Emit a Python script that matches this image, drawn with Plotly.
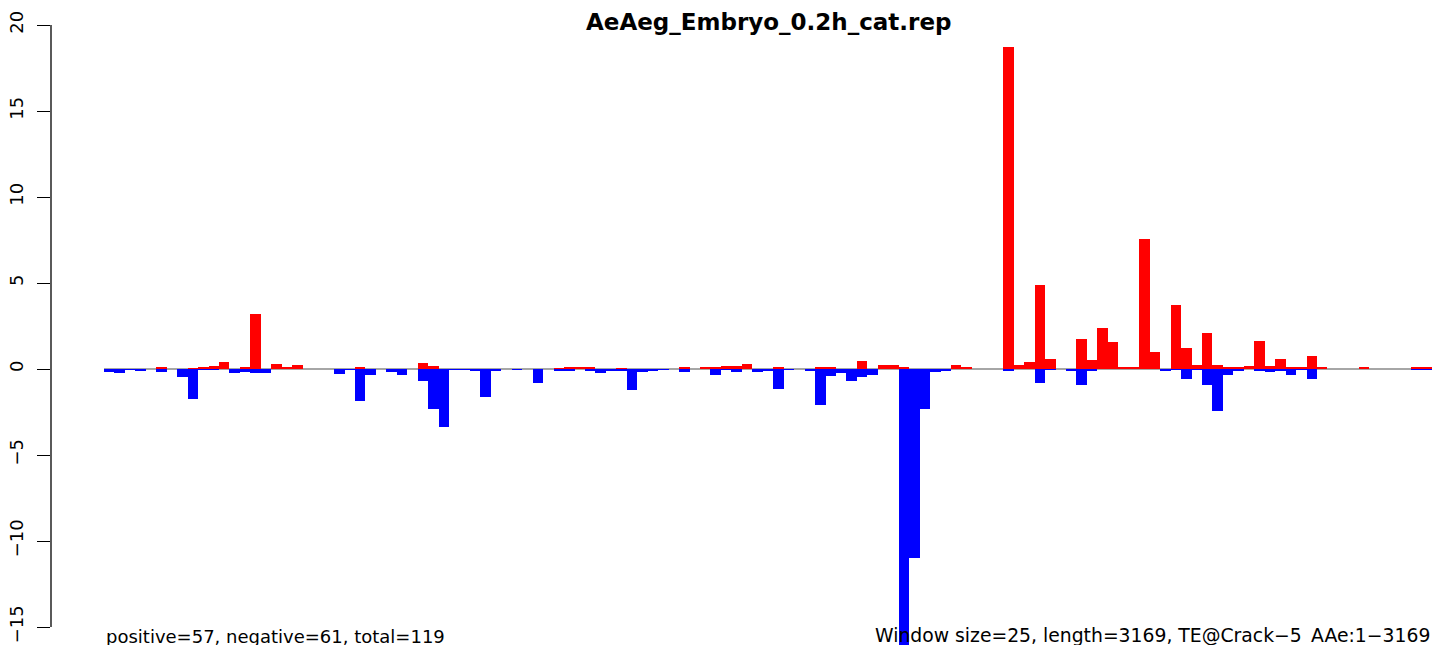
import plotly.graph_objects as go

title = "AeAeg_Embryo_0.2h_cat.rep"
left_note = "positive=57, negative=61, total=119"
right_note = "Window size=25, length=3169, TE@Crack\u22125_AAe:1\u22123169"

# one window per 25 bp -> 127 windows
positive = [0, 0, 0, 0, 0, 0.10, 0, 0, 0.05, 0.12,
            0.18, 0.41, 0, 0.06, 3.22, 0, 0.29, 0.06, 0.23, 0,
            0, 0, 0, 0, 0.08, 0, 0, 0, 0, 0,
            0.37, 0.18, 0, 0, 0, 0, 0, 0, 0, 0,
            0, 0, 0, 0.03, 0.12, 0.06, 0.12, 0, 0, 0.03,
            0, 0, 0, 0, 0, 0.12, 0, 0.12, 0.06, 0.18,
            0.18, 0.29, 0, 0, 0.06, 0, 0, 0, 0.12, 0.06,
            0, 0, 0.47, 0, 0.23, 0.23, 0.06, 0, 0, 0,
            0, 0.23, 0.12, 0, 0, 0, 18.72, 0.23, 0.41, 4.91,
            0.58, 0, 0, 1.75, 0.53, 2.40, 1.58, 0.08, 0.14, 7.54,
            0.99, 0, 3.74, 1.23, 0.23, 2.10, 0.23, 0.12, 0.12, 0.18,
            1.64, 0.18, 0.58, 0.12, 0.12, 0.76, 0.06, 0, 0, 0,
            0.12, 0, 0, 0, 0, 0.06, 0.06]

negative = [-0.15, -0.25, -0.05, -0.12, 0, -0.20, 0, -0.45, -1.75, -0.03,
            -0.05, 0, -0.22, -0.15, -0.22, -0.22, 0, 0, 0, 0,
            0, 0, -0.30, -0.04, -1.85, -0.35, 0, -0.16, -0.35, 0,
            -0.68, -2.34, -3.39, -0.04, -0.04, -0.10, -1.64, -0.06, 0, -0.04,
            0, -0.82, 0, -0.06, -0.06, 0, -0.06, -0.22, -0.10, -0.10,
            -1.23, -0.16, -0.10, -0.04, 0, -0.16, 0, 0, -0.35, -0.04,
            -0.16, 0, -0.16, -0.06, -1.17, -0.04, 0, -0.10, -2.10, -0.40,
            -0.22, -0.70, -0.45, -0.35, 0, 0, -16.2, -10.97, -2.34, -0.16,
            -0.06, 0, 0, 0, 0, 0, -0.06, 0, 0, -0.82,
            -0.04, 0, -0.06, -0.94, -0.12, 0, 0, 0, 0, 0,
            0, -0.08, -0.04, -0.58, -0.04, -0.94, -2.46, -0.35, -0.12, 0,
            -0.12, -0.18, -0.10, -0.35, -0.04, -0.58, 0, 0, 0, 0,
            0, 0, 0, 0, 0, -0.04, -0.04]

y_ticks = [-15, -10, -5, 0, 5, 10, 15, 20]
y_tick_text = [str(v).replace("-", "\u2212") for v in y_ticks]

n = len(positive)
xs = [i + 0.5 for i in range(n)]

# the page body adds an 8px offset; layout numbers below are in figure pixels
W, H = 1441, 645
ML = 43
bar_left, bar_right = 96, 1424
px_per_bar = (bar_right - bar_left) / n
x0 = -(bar_left - ML) / px_per_bar
x1 = x0 + (W - ML) / px_per_bar
zero_px = 361
px_per_unit = 17.2
y_max = zero_px / px_per_unit
y_min = -(H - zero_px) / px_per_unit

FONT = "DejaVu Sans"

fig = go.Figure()
fig.add_trace(go.Bar(x=xs, y=positive, width=1, marker=dict(color="#FF0000", line=dict(width=0)),
                     showlegend=False, hoverinfo="skip"))
fig.add_trace(go.Bar(x=xs, y=negative, width=1, marker=dict(color="#0000FF", line=dict(width=0)),
                     showlegend=False, hoverinfo="skip"))

fig.update_layout(
    template="none",
    width=W, height=H,
    margin=dict(l=ML, r=0, t=0, b=0, pad=0),
    paper_bgcolor="white", plot_bgcolor="white",
    barmode="overlay", bargap=0,
    xaxis=dict(range=[x0, x1], visible=False, showgrid=False, zeroline=False, fixedrange=True),
    yaxis=dict(range=[y_min, y_max], showgrid=False, zeroline=False, showline=False,
               tickmode="array", tickvals=y_ticks, ticktext=y_tick_text,
               ticks="outside", ticklen=13, tickwidth=1.3, tickcolor="black",
               tickangle=-90, ticklabelstandoff=7,
               tickfont=dict(family=FONT, size=18, color="black"),
               automargin=False, fixedrange=True),
    shapes=[
        dict(type="line", xref="x", yref="y", x0=0, x1=n, y0=0, y1=0,
             line=dict(color="#a6a6a6", width=2), layer="below"),
        dict(type="line", xref="paper", yref="y", x0=0, x1=0, y0=-15, y1=20,
             line=dict(color="black", width=1.3), layer="above"),
    ],
    annotations=[
        dict(text="<b>" + title + "</b>", xref="x", yref="paper", x=n / 2, y=1,
             xanchor="center", yanchor="top", showarrow=False, borderpad=0,
             font=dict(family=FONT, size=23, color="black")),
        dict(text=left_note, xref="x", yref="paper", x=0, y=1 - 628 / H,
             xanchor="left", yanchor="middle", showarrow=False,
             font=dict(family=FONT, size=18, color="black")),
        dict(text=right_note, xref="x", yref="paper", x=n, y=1 - 628 / H,
             xanchor="right", yanchor="middle", showarrow=False,
             font=dict(family=FONT, size=18.8, color="black")),
    ],
)

fig.write_html("out.html")
